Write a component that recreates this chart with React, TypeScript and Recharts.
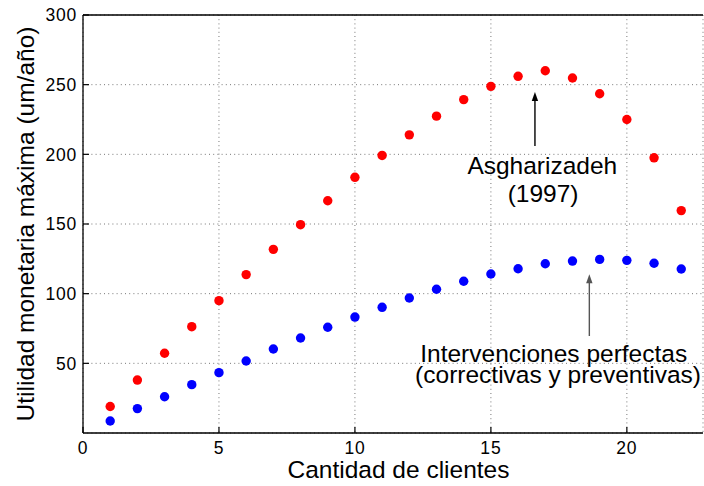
import React from "react";
import {
  ScatterChart,
  Scatter,
  XAxis,
  YAxis,
  CartesianGrid,
  ReferenceLine,
  ReferenceDot,
} from "recharts";

const clients = [1, 2, 3, 4, 5, 6, 7, 8, 9, 10, 11, 12, 13, 14, 15, 16, 17, 18, 19, 20, 21, 22];
const asgharizadeh = [19, 38, 57.2, 76.3, 95, 113.7, 131.8, 149.5, 166.7, 183.5, 199.2, 214, 227.4, 239.3, 248.8, 256, 260, 254.8, 243.5, 225, 197.5, 159.6];
const perfectas = [8.6, 17.5, 26, 34.7, 43.3, 51.7, 60.3, 68.2, 75.9, 83.2, 90.2, 96.9, 103.2, 108.9, 114.1, 117.9, 121.5, 123.4, 124.6, 123.9, 121.8, 117.7];
const xTicks = [0, 5, 10, 15, 20];
const xTopTicks = [5, 10, 15, 20];
const yTicks = [50, 100, 150, 200, 250, 300];
const xLabel = "Cantidad de clientes";
const yLabel = "Utilidad monetaria máxima (um/año)";

const redData = clients.map((c, i) => ({ x: c, y: asgharizadeh[i] }));
const blueData = clients.map((c, i) => ({ x: c, y: perfectas[i] }));

const FONT = "'Liberation Sans', Arial, Helvetica, sans-serif";

const BottomTick = (props: any) => {
  const { x, y, payload } = props;
  return (
    <g>
      <line x1={x} y1={y} x2={x} y2={y - 6} stroke="#000" strokeWidth={1.2} />
      <text x={x} y={y + 21} textAnchor="middle" fontFamily={FONT} fontSize={17.5} letterSpacing={0.8} fill="#000">
        {payload.value}
      </text>
    </g>
  );
};

const TopTick = (props: any) => {
  const { x, y } = props;
  return <line x1={x} y1={y} x2={x} y2={y + 6} stroke="#000" strokeWidth={1.2} />;
};

const LeftTick = (props: any) => {
  const { x, y, payload } = props;
  return (
    <g>
      <line x1={x} y1={y} x2={x + 6} y2={y} stroke="#000" strokeWidth={1.2} />
      <text x={x - 6} y={y + 6.2} textAnchor="end" fontFamily={FONT} fontSize={17.5} letterSpacing={0.8} fill="#000">
        {payload.value}
      </text>
    </g>
  );
};

const arrowShape = (color: string) => (p: any) => {
  const { x1, y1, x2, y2 } = p;
  const len = 9;
  const half = 3.2;
  return (
    <g>
      <line x1={x1} y1={y1} x2={x2} y2={y2 + len - 1} stroke={color} strokeWidth={1.4} />
      <polygon points={`${x2},${y2} ${x2 - half},${y2 + len} ${x2 + half},${y2 + len}`} fill={color} />
    </g>
  );
};

const textShape = (label: string) => (p: any) => (
  <text x={p.cx} y={p.cy} textAnchor="middle" fontFamily={FONT} fontSize={24.5} fill="#000">
    {label}
  </text>
);

const dot = (color: string) => (p: any) => <circle cx={p.cx} cy={p.cy} r={4.7} fill={color} />;

export default function App() {
  return (
    <div style={{ position: "absolute", left: 0, top: 0, width: 704, height: 486, background: "#fff" }}>
      <ScatterChart width={704} height={486} margin={{ top: 0, right: 1, bottom: 0, left: 0 }}>
        <CartesianGrid stroke="#777" strokeDasharray="1 3.2" strokeWidth={1} />
        <XAxis
          dataKey="x"
          type="number"
          domain={[0, 22.8]}
          ticks={xTicks}
          height={53}
          tickSize={0}
          tickMargin={0}
          tickLine={false}
          axisLine={{ stroke: "#000", strokeWidth: 1.3 }}
          tick={<BottomTick />}
          allowDataOverflow
          label={(lp: any) => {
            const vb = lp.viewBox || { x: 83, y: 433 };
            return (
              <text x={vb.x + 315.5} y={vb.y + 45} textAnchor="middle" fontFamily={FONT} fontSize={24.5} fill="#000">
                {xLabel}
              </text>
            );
          }}
        />
        <XAxis
          xAxisId="top"
          orientation="top"
          type="number"
          domain={[0, 22.8]}
          ticks={xTopTicks}
          height={15}
          tickSize={0}
          tickMargin={0}
          tickLine={false}
          axisLine={{ stroke: "#000", strokeWidth: 1.3 }}
          tick={<TopTick />}
          allowDataOverflow
        />
        <YAxis
          dataKey="y"
          type="number"
          domain={[0, 300]}
          ticks={yTicks}
          width={83}
          tickSize={0}
          tickMargin={0}
          tickLine={false}
          axisLine={{ stroke: "#000", strokeWidth: 1.3 }}
          tick={<LeftTick />}
          allowDataOverflow
          label={(lp: any) => {
            const vb = lp.viewBox || { x: 0, y: 15, height: 418 };
            const cx = vb.x + 34;
            const cy = vb.y + vb.height / 2;
            return (
              <text
                x={0}
                y={0}
                transform={`translate(${cx}, ${cy}) rotate(-90)`}
                textAnchor="middle"
                fontFamily={FONT}
                fontSize={24.5}
                fill="#000"
              >
                {yLabel}
              </text>
            );
          }}
        />
        <Scatter data={redData} shape={dot("#ff0000")} isAnimationActive={false} />
        <Scatter data={blueData} shape={dot("#0000ff")} isAnimationActive={false} />
        <ReferenceLine
          segment={[{ x: 16.62, y: 206 }, { x: 16.62, y: 244.7 }]}
          shape={arrowShape("#000")}
          ifOverflow="visible"
        />
        <ReferenceLine
          segment={[{ x: 18.62, y: 69.6 }, { x: 18.62, y: 113.9 }]}
          shape={arrowShape("#555")}
          ifOverflow="visible"
        />
        <ReferenceDot x={16.89} y={185.9} r={0} shape={textShape("Asgharizadeh")} ifOverflow="visible" />
        <ReferenceDot x={16.92} y={165.8} r={0} shape={textShape("(1997)")} ifOverflow="visible" />
        <ReferenceDot x={17.31} y={50.7} r={0} shape={textShape("Intervenciones perfectas")} ifOverflow="visible" />
        <ReferenceDot x={17.47} y={35.6} r={0} shape={textShape("(correctivas y preventivas)")} ifOverflow="visible" />
      </ScatterChart>
    </div>
  );
}
